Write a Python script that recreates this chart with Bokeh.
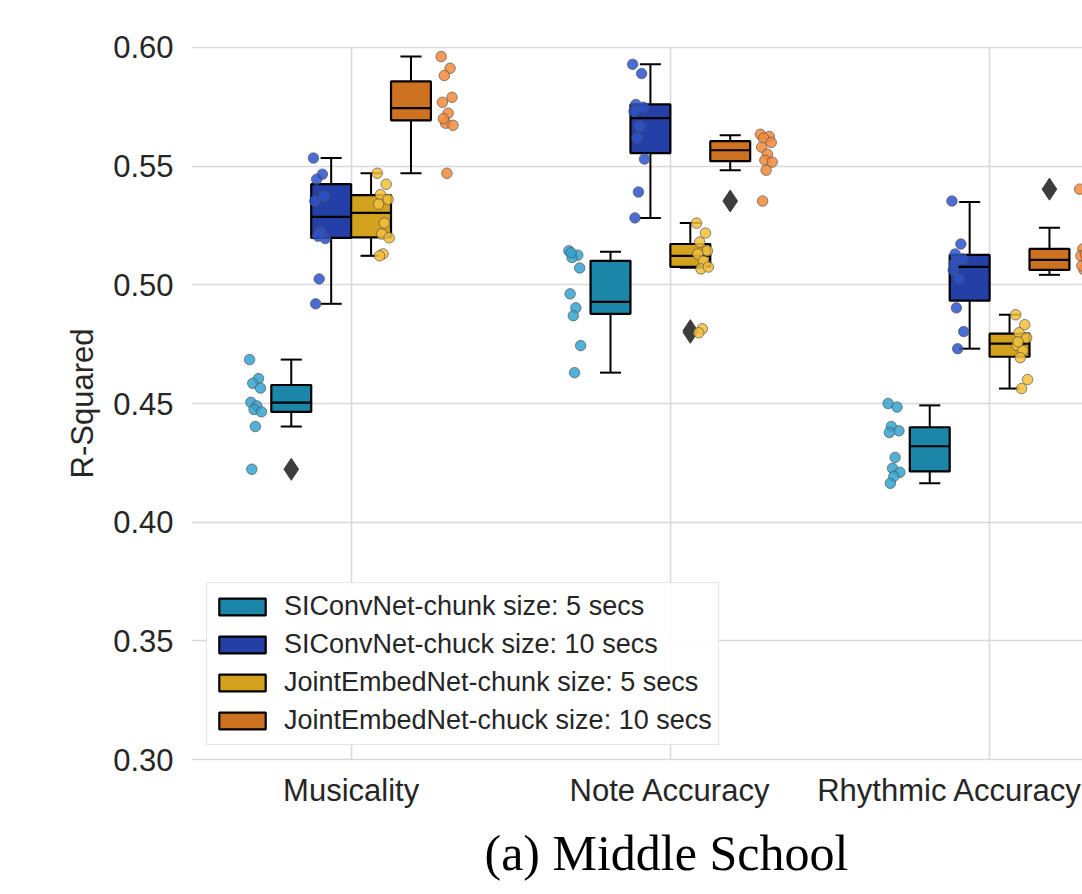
from bokeh.plotting import figure
from bokeh.models import ColumnDataSource, FixedTicker, Legend, LegendItem, Range1d, PrintfTickFormatter
from bokeh.transform import dodge
from bokeh.embed import file_html
from bokeh.resources import INLINE

# ---------------- data ----------------
categories = ["Musicality", "Note Accuracy", "Rhythmic Accuracy"]
series_names = [
    "SIConvNet-chunk size: 5 secs",
    "SIConvNet-chuck size: 10 secs",
    "JointEmbedNet-chunk size: 5 secs",
    "JointEmbedNet-chuck size: 10 secs",
]
y_ticks = [0.30, 0.35, 0.40, 0.45, 0.50, 0.55, 0.60]
caption = "(a) Middle School"

# box statistics, one row per series, one value per category
whisker_low = [[0.4403, 0.4630, 0.4164],
               [0.4920, 0.5282, 0.4731],
               [0.5122, 0.5072, 0.4563],
               [0.5470, 0.5483, 0.5042]]
q1 = [[0.4465, 0.4878, 0.4214],
      [0.5198, 0.5555, 0.4933],
      [0.5200, 0.5076, 0.4697],
      [0.5693, 0.5521, 0.5063]]
median = [[0.4504, 0.4928, 0.4320],
          [0.5286, 0.5702, 0.5076],
          [0.5303, 0.5122, 0.4752],
          [0.5744, 0.5567, 0.5105]]
q3 = [[0.4578, 0.5101, 0.4400],
      [0.5424, 0.5760, 0.5126],
      [0.5378, 0.5172, 0.4794],
      [0.5857, 0.5605, 0.5151]]
whisker_high = [[0.4685, 0.5139, 0.4492],
                [0.5534, 0.5929, 0.5349],
                [0.5470, 0.5260, 0.4874],
                [0.5962, 0.5630, 0.5240]]
outliers = [[[0.4223], [], []],
            [[], [], []],
            [[], [0.4807, 0.4800], []],
            [[], [0.5353], [0.5403]]]

# individual runs (strip points)
points_siconv_5 = [
    [0.4685, 0.4605, 0.4585, 0.4565, 0.4505, 0.4490, 0.4475, 0.4465, 0.4403, 0.4223],
    [0.5143, 0.5125, 0.5115, 0.5071, 0.4962, 0.4903, 0.4870, 0.4744, 0.4630, 0.5135],
    [0.4500, 0.4485, 0.4403, 0.4385, 0.4378, 0.4273, 0.4227, 0.4210, 0.4193, 0.4164],
]
points_siconv_10 = [
    [0.5534, 0.5466, 0.5445, 0.5374, 0.5353, 0.5223, 0.5205, 0.5195, 0.5025, 0.4920],
    [0.5929, 0.5890, 0.5760, 0.5748, 0.5731, 0.5668, 0.5618, 0.5530, 0.5391, 0.5282],
    [0.5353, 0.5172, 0.5130, 0.5109, 0.5063, 0.5025, 0.4903, 0.4803, 0.4731, 0.5090],
]
points_joint_5 = [
    [0.5470, 0.5424, 0.5380, 0.5360, 0.5340, 0.5260, 0.5214, 0.5198, 0.5130, 0.5122],
    [0.5260, 0.5218, 0.5180, 0.5143, 0.5130, 0.5100, 0.5067, 0.5075, 0.4815, 0.4798],
    [0.4874, 0.4832, 0.4798, 0.4777, 0.4744, 0.4723, 0.4693, 0.4601, 0.4563, 0.4760],
]
points_joint_10 = [
    [0.5962, 0.5912, 0.5882, 0.5790, 0.5769, 0.5723, 0.5681, 0.5672, 0.5470, 0.5700],
    [0.5634, 0.5625, 0.5618, 0.5600, 0.5580, 0.5550, 0.5525, 0.5517, 0.5483, 0.5353],
    [0.5403, 0.5240, 0.5151, 0.5140, 0.5122, 0.5110, 0.5063, 0.5042, 0.5130, 0.5080],
]
all_points = [points_siconv_5, points_siconv_10, points_joint_5, points_joint_10]

# ---------------- style ----------------
box_colors = ["#1c86a8", "#2440a6", "#d2a21e", "#cc7220"]
dot_colors = ["#33a3cf", "#2b52cc", "#f2c03a", "#f48a3a"]
box_offsets = [-0.1875, -0.0625, 0.0625, 0.1875]
strip_offsets = [-0.3, -0.1, 0.1, 0.3]
box_w = 0.125
cap_half = 0.033
jitter = [-0.018, 0.010, -0.008, 0.016, -0.014, 0.004, -0.004, 0.019, 0.0, -0.011]
FONT = "Liberation Sans"
TXT = "#262626"

p = figure(width=1082, height=894,
           x_range=Range1d(-0.5, 2.291), y_range=Range1d(0.2996, 0.6004),
           output_backend="svg", toolbar_location=None,
           min_border_left=191, min_border_right=0, min_border_top=46, min_border_bottom=134,
           title=caption, title_location="below")

p.outline_line_color = None
p.background_fill_color = "white"
p.border_fill_color = "white"

idx = list(range(len(categories)))

box_renderers = []
for s in range(len(series_names)):
    src = ColumnDataSource(dict(
        xi=idx, lo=whisker_low[s], q1=q1[s], med=median[s], q3=q3[s], hi=whisker_high[s]))
    off = box_offsets[s]
    # whiskers
    p.segment(x0=dodge("xi", off), x1=dodge("xi", off), y0="q3", y1="hi", source=src,
              line_color="black", line_width=2)
    p.segment(x0=dodge("xi", off), x1=dodge("xi", off), y0="lo", y1="q1", source=src,
              line_color="black", line_width=2)
    p.segment(x0=dodge("xi", off - cap_half), x1=dodge("xi", off + cap_half), y0="hi", y1="hi",
              source=src, line_color="black", line_width=2)
    p.segment(x0=dodge("xi", off - cap_half), x1=dodge("xi", off + cap_half), y0="lo", y1="lo",
              source=src, line_color="black", line_width=2)
    # box
    r = p.vbar(x=dodge("xi", off), width=box_w, top="q3", bottom="q1", source=src,
               fill_color=box_colors[s], line_color="black", line_width=2.2)
    box_renderers.append(r)
    # median
    p.segment(x0=dodge("xi", off - box_w / 2), x1=dodge("xi", off + box_w / 2), y0="med", y1="med",
              source=src, line_color="black", line_width=2.2)
    # outliers
    ox, oy = [], []
    for c in idx:
        for v in outliers[s][c]:
            ox.append(c)
            oy.append(v)
    osrc = ColumnDataSource(dict(xi=ox, y=oy))
    p.scatter(x=dodge("xi", off), y="y", source=osrc, marker="diamond", size=22,
              fill_color="#3d3d3d", line_color="#3d3d3d")

# strip points
for s in range(len(series_names)):
    px, py = [], []
    for c in idx:
        for i, v in enumerate(all_points[s][c]):
            px.append(c + jitter[i % len(jitter)])
            py.append(v)
    psrc = ColumnDataSource(dict(xp=px, y=py))
    p.scatter(x=dodge("xp", strip_offsets[s]), y="y", source=psrc, size=10.5,
              fill_color=dot_colors[s], fill_alpha=0.85,
              line_color="#555555", line_alpha=0.7, line_width=1)

legend = Legend(items=[LegendItem(label=series_names[s], renderers=[box_renderers[s]])
                       for s in range(len(series_names))],
                location=(15, 15), margin=0, padding=6, spacing=3,
                glyph_width=58, glyph_height=21, label_height=35, label_standoff=13,
                label_text_font=FONT, label_text_font_size="27px", label_text_color=TXT,
                border_line_color="#cccccc", border_line_width=1.5,
                background_fill_color="white", background_fill_alpha=0.9)
p.add_layout(legend)

# axes
p.xaxis.ticker = FixedTicker(ticks=idx)
p.xaxis.major_label_overrides = {i: categories[i] for i in idx}
p.yaxis.ticker = FixedTicker(ticks=y_ticks)
p.yaxis.formatter = PrintfTickFormatter(format="%.2f")
p.yaxis.axis_label = "R-Squared"
for ax in [p.xaxis[0], p.yaxis[0]]:
    ax.axis_line_color = None
    ax.major_tick_line_color = None
    ax.minor_tick_line_color = None
    ax.major_tick_out = 0
    ax.major_label_text_font = FONT
    ax.major_label_text_font_size = "31px"
    ax.major_label_text_color = TXT
    ax.axis_label_text_font = FONT
    ax.axis_label_text_font_size = "31px"
    ax.axis_label_text_font_style = "normal"
    ax.axis_label_text_color = TXT
p.yaxis.major_label_standoff = 18
p.xaxis.major_label_standoff = 12
p.yaxis.axis_label_standoff = 10

p.grid.grid_line_color = "#d9d9d9"
p.grid.grid_line_width = 1.6

p.title.text_font = "Liberation Serif"
p.title.text_font_size = "50px"
p.title.text_font_style = "normal"
p.title.text_color = "black"
p.title.align = "left"
p.title.offset = 293
p.title.standoff = 24

open("out.html", "w").write(file_html(p, INLINE))
